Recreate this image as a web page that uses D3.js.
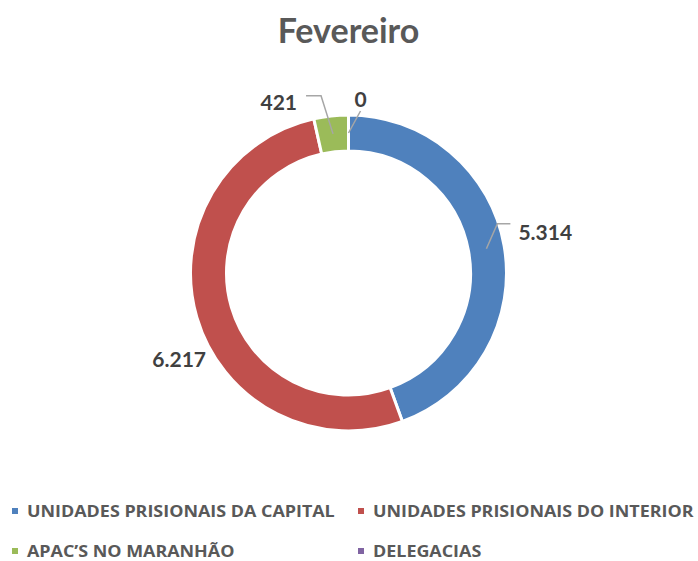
<!DOCTYPE html>
<html>
<head>
<meta charset="utf-8">
<script src="https://cdn.jsdelivr.net/npm/d3@7"></script>
<style>
  body { margin: 0; background: #fff; }
  text { font-family: Lato, "Open Sans", sans-serif; font-weight: bold; }
  .legend text { font-family: "Open Sans", Lato, sans-serif; }
</style>
</head>
<body>
<div id="chart"></div>
<script>
var categories = ["UNIDADES PRISIONAIS DA CAPITAL", "UNIDADES PRISIONAIS DO INTERIOR", "APAC\u2019S NO MARANHÃO", "DELEGACIAS"];
var values = [5314, 6217, 421, 0];
var valueLabels = ["5.314", "6.217", "421", "0"];
var colors = ["#4F81BD", "#C0504D", "#9BBB59", "#8064A2"];

// label placement relative to the slice's mid point on the ring (offsets in px)
var labelOffsets = [
  { elbow: [11, -25], end: [24, -25], text: [32, -16], anchor: "start" },
  { elbow: null, end: null, text: [-35, 47], anchor: "middle" },
  { elbow: [-12, -38], end: [-27, -38], text: [-36, -31], anchor: "end" },
  { elbow: [12, -22], end: null, text: [12, -33], anchor: "middle" }
];

var width = 698, height = 561;
var cx = 348.5, cy = 273;
var rOuter = 158, rInner = 122;

var svg = d3.select("#chart").append("svg")
  .attr("width", width)
  .attr("height", height);

svg.append("text")
  .attr("x", cx)
  .attr("y", 43)
  .attr("text-anchor", "middle")
  .attr("fill", "#595959")
  .style("font-size", "34px")
  .text("Fevereiro");

var df = categories.map(function(c, i) {
  return { name: c, value: values[i], label: valueLabels[i], color: colors[i], off: labelOffsets[i] };
});

var pie = d3.pie().sort(null).value(function(d) { return d.value; });
var arc = d3.arc().innerRadius(rInner).outerRadius(rOuter);
var arcs = pie(df);

var g = svg.append("g").attr("transform", "translate(" + cx + "," + cy + ")");

g.selectAll("path")
  .data(arcs)
  .enter()
  .append("path")
    .attr("d", arc)
    .attr("fill", function(d) { return d.data.color; })
    .attr("stroke", "#fff")
    .attr("stroke-width", 3);

var rMid = (rInner + rOuter) / 2;
arcs.forEach(function(d) {
  var a = (d.startAngle + d.endAngle) / 2;
  var px = rMid * Math.sin(a), py = -rMid * Math.cos(a);
  var o = d.data.off;
  if (o.elbow) {
    var pts = [[px, py], [px + o.elbow[0], py + o.elbow[1]]];
    if (o.end) pts.push([px + o.end[0], py + o.end[1]]);
    g.append("path")
      .attr("d", d3.line()(pts))
      .attr("fill", "none")
      .attr("stroke", "#A6A6A6")
      .attr("stroke-width", 1.5);
  }
  g.append("text")
    .attr("x", px + o.text[0])
    .attr("y", py + o.text[1])
    .attr("dy", "0.35em")
    .attr("text-anchor", o.anchor)
    .attr("fill", "#404040")
    .style("font-size", "21px")
    .text(d.data.label);
});

// legend
var legendCols = [12, 358];
var legendRows = [511, 551];
var legend = svg.selectAll(".legend")
  .data(df)
  .enter()
  .append("g")
    .attr("class", "legend")
    .attr("transform", function(d, i) {
      return "translate(" + legendCols[i % 2] + "," + legendRows[Math.floor(i / 2)] + ")";
    });

legend.append("rect")
  .attr("x", 0)
  .attr("y", -3)
  .attr("width", 6)
  .attr("height", 6)
  .attr("fill", function(d) { return d.color; });

var legendText = legend.append("text")
  .attr("x", 0)
  .attr("y", 0)
  .attr("dy", "0.35em")
  .attr("fill", "#595959")
  .style("font-size", "16px")
  .text(function(d) { return d.name; });

// squeeze/stretch the legend labels so the first one spans the same width as in Excel
var natural = legendText.node().getComputedTextLength();
var sx = 308 / natural;
legendText.attr("transform", "translate(15,0) scale(" + sx + ",1)");
</script>
</body>
</html>
